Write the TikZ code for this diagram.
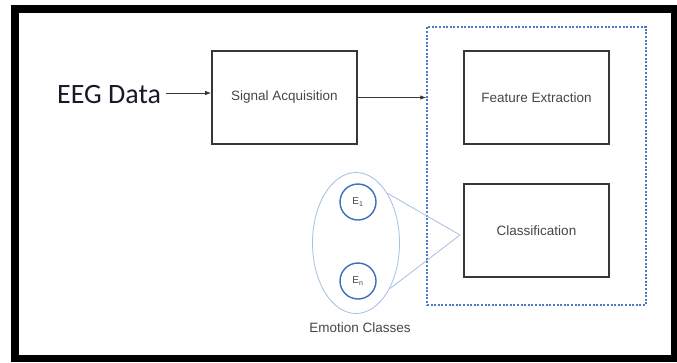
\documentclass[tikz,border=0pt]{standalone}
\usepackage{fontspec}
\setmainfont{Liberation Sans}
\newfontfamily\calib{Carlito}
\usetikzlibrary{arrows.meta,shapes.geometric}
\definecolor{boxgray}{RGB}{55,55,55}
\definecolor{txtgray}{RGB}{70,70,70}
\definecolor{dotblue}{RGB}{80,120,200}
\definecolor{circblue}{RGB}{60,110,190}
\definecolor{lightblue}{RGB}{165,192,226}
\definecolor{eegcol}{RGB}{25,25,40}
\begin{document}
\begin{tikzpicture}[x=1pt,y=-1pt,
 procbox/.style={draw=boxgray, line width=1.6pt, minimum width=145pt, minimum height=93pt, inner sep=0pt, font=\fontsize{13.5}{15}\selectfont, text=txtgray},
 flow/.style={-{Latex[length=6pt,width=4.5pt]}, line width=0.9pt, draw=boxgray},
 emo/.style={circle, draw=circblue, line width=1.4pt, minimum size=36pt, inner sep=0pt, font=\fontsize{10}{11}\selectfont, text=txtgray},
 link/.style={draw=lightblue, line width=0.8pt}]
\useasboundingbox (0,0) rectangle (677,362);
\fill[white] (0,0) rectangle (677,362);
\fill[black] (11,5) rectangle (677,13);
\fill[black] (11,5) rectangle (19,362);
\fill[black] (11,355) rectangle (677,362);
\fill[black] (671,5) rectangle (677,362);

\node[anchor=base west, inner sep=0pt, font=\calib\fontsize{28}{30}\selectfont, text=eegcol] (eeg) at (57,103) {EEG Data};
\node[procbox] (sig) at (284.5,97.5) {Signal Acquisition};
\node[draw=dotblue, dash pattern=on 2pt off 1.6pt, line width=1.5pt, minimum width=219pt, minimum height=278pt, inner sep=0pt] (grp) at (536.5,166) {};
\node[procbox] (fe) at (536.5,97.5) {Feature Extraction};
\node[procbox] (cls) at (536.5,230.5) {Classification};

\draw[flow] (eeg.east) ++(5,-1) coordinate (eegout) -- (eegout -| sig.west);
\draw[flow] (sig.east) -- (sig.east -| grp.west);

\node[ellipse, draw=lightblue, line width=0.8pt, minimum width=87pt, minimum height=141pt, inner sep=0pt] (set) at (356,243) {};
\node[emo] (e1) at (358,202) {E\textsubscript{1}};
\node[emo] (en) at (358,281) {E\textsubscript{n}};
\coordinate (apex) at (460,235);
\draw[link] (set.58) -- (apex) -- (set.-54);
\node[font=\fontsize{13.5}{15}\selectfont, text=txtgray] (lbl) at (360,328) {Emotion Classes};
\end{tikzpicture}
\end{document}
